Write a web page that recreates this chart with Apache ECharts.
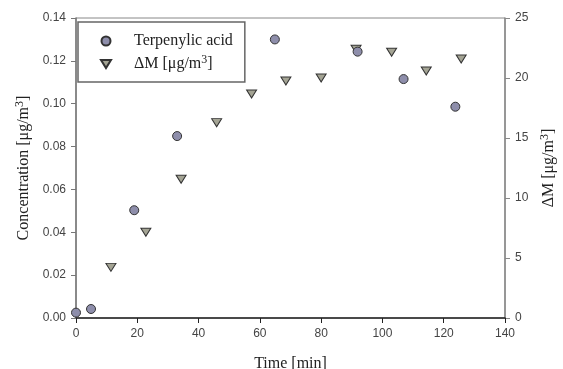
<!DOCTYPE html>
<html>
<head>
<meta charset="utf-8">
<script src="https://cdn.jsdelivr.net/npm/echarts@6/dist/echarts.min.js"></script>
<style>
  html, body { margin: 0; padding: 0; background: #fff; }
  #chart { width: 563px; height: 369px; }
</style>
</head>
<body>
<div id="chart"></div>
<script>
// Terpenylic acid (left axis)
const acidTime = [0, 4.9, 19.0, 33.0, 64.9, 91.9, 106.9, 123.8]
const acidConc = [0.0025, 0.0042, 0.0503, 0.0849, 0.130, 0.1243, 0.1115, 0.0986]

// ΔM (right axis)
const dmTime = [11.4, 22.8, 34.3, 45.9, 57.3, 68.5, 80.0, 91.4, 103.0, 114.3, 125.7]
const dmVal = [4.22, 7.14, 11.56, 16.28, 18.67, 19.75, 20.0, 22.4, 22.14, 20.58, 21.58]

const seriesNames = ['Terpenylic acid', 'ΔM [μg/m3]']

const serif = 'Liberation Serif, Times New Roman, serif'
const sans = 'Liberation Sans, Arial, sans-serif'
const downTriangle = 'path://M0,0 L10,0 L5,8 Z'

// rich text with a superscript "3"
const richTitle = {
  p: { width: 18 },
  t: { fontFamily: serif, fontSize: 16, color: '#222', lineHeight: 20, verticalAlign: 'middle' },
  s: { fontFamily: serif, fontSize: 12, color: '#222', lineHeight: 12, verticalAlign: 'top' }
}
const sup = (text) => text.replace(/^(.*)3\]$/, '{t|$1}{s|3}{t|]}')

const chart = echarts.init(document.getElementById('chart'))

chart.setOption({
  animation: false,
  grid: {
    left: 76, right: 58, top: 18, bottom: 51,
    containLabel: false,
    outerBoundsMode: 'none',
    show: true, borderColor: '#888', borderWidth: 1
  },
  legend: {
    orient: 'vertical',
    left: 78, top: 22,
    data: seriesNames,
    itemWidth: 10, itemHeight: 9, itemGap: 5,
    padding: [11, 12, 10, 22],
    borderColor: '#666', borderWidth: 1.5,
    backgroundColor: '#fff',
    formatter: (name) => '{p|}' + (name === seriesNames[1] ? sup(name) : '{t|' + name + '}'),
    textStyle: { rich: richTitle }
  },
  xAxis: {
    type: 'value',
    min: 0, max: 140, interval: 20,
    name: 'Time [min]',
    nameLocation: 'middle', nameGap: 38,
    nameTextStyle: { fontFamily: serif, fontSize: 16, color: '#222' },
    axisLine: { lineStyle: { color: '#222', width: 1.5 } },
    axisTick: { length: 5, lineStyle: { color: '#222' } },
    axisLabel: { fontFamily: sans, fontSize: 12, color: '#444', margin: 10 },
    splitLine: { show: false }
  },
  yAxis: [{
    type: 'value',
    min: 0, max: 0.14, interval: 0.02,
    name: sup('Concentration [μg/m3]'),
    nameLocation: 'middle', nameGap: 39, nameRotate: 90,
    nameTextStyle: { rich: richTitle },
    axisLine: { show: true, lineStyle: { color: '#777', width: 1.5 } },
    axisTick: { show: true, length: 5, lineStyle: { color: '#777' } },
    axisLabel: { fontFamily: sans, fontSize: 12, color: '#444', margin: 10, formatter: (v) => v.toFixed(2) },
    splitLine: { show: false }
  }, {
    type: 'value',
    position: 'right',
    min: 0, max: 25, interval: 5,
    name: sup('ΔM [μg/m3]'),
    nameLocation: 'middle', nameGap: 34, nameRotate: 90,
    nameTextStyle: { rich: richTitle },
    axisLine: { show: true, lineStyle: { color: '#888', width: 1.5 } },
    axisTick: { show: true, length: 5, lineStyle: { color: '#888' } },
    axisLabel: { fontFamily: sans, fontSize: 12, color: '#444', margin: 10 },
    splitLine: { show: false }
  }],
  series: [{
    name: seriesNames[0],
    type: 'scatter',
    yAxisIndex: 0,
    symbol: 'circle',
    symbolSize: 9,
    itemStyle: { color: '#8e8eab', borderColor: '#333', borderWidth: 1, opacity: 1 },
    data: acidTime.map((t, i) => [t, acidConc[i]]),
    z: 4
  }, {
    name: seriesNames[1],
    type: 'scatter',
    yAxisIndex: 1,
    symbol: downTriangle,
    symbolSize: [10, 8],
    itemStyle: { color: '#a4a494', borderColor: '#333', borderWidth: 1, opacity: 1 },
    data: dmTime.map((t, i) => [t, dmVal[i]]),
    z: 3
  }]
})
</script>
</body>
</html>
